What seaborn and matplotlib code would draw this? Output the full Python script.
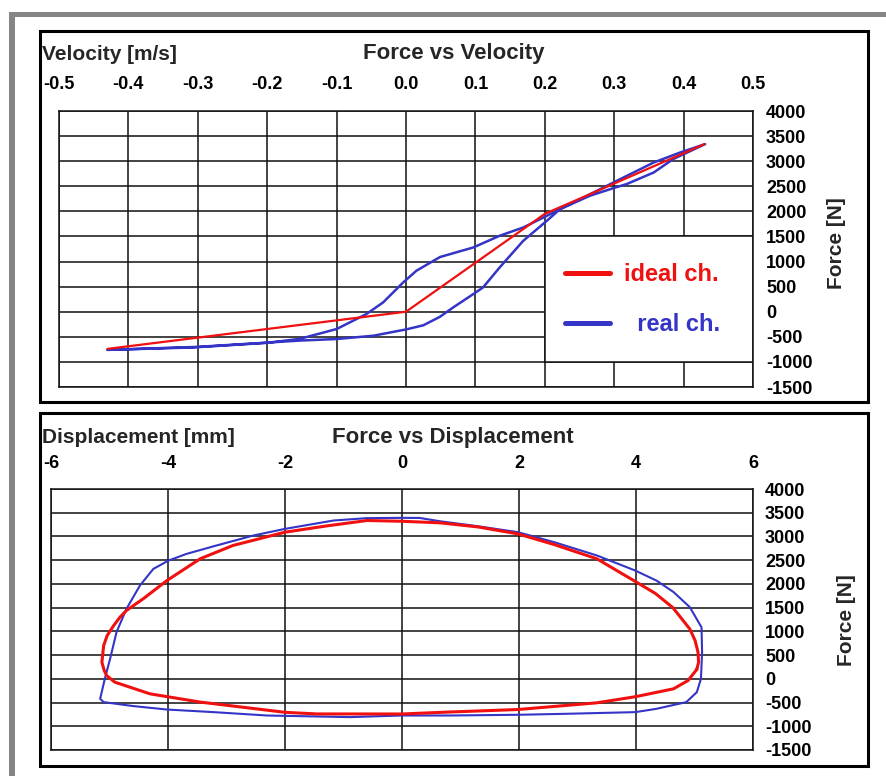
import matplotlib
matplotlib.use("Agg")
import matplotlib.pyplot as plt
import pandas as pd
import seaborn as sns
from matplotlib.patches import Rectangle

# ---------------- data ----------------
vel_ticks = [-0.5, -0.4, -0.3, -0.2, -0.1, 0.0, 0.1, 0.2, 0.3, 0.4, 0.5]
vel_tick_labels = ["-0.5", "-0.4", "-0.3", "-0.2", "-0.1", "0.0",
                   "0.1", "0.2", "0.3", "0.4", "0.5"]
disp_ticks = [-6, -4, -2, 0, 2, 4, 6]
disp_tick_labels = ["-6", "-4", "-2", "0", "2", "4", "6"]
force_ticks = [-1500, -1000, -500, 0, 500, 1000, 1500, 2000, 2500, 3000, 3500, 4000]

# ideal damper characteristic (force vs velocity)
ideal_vel = [-0.43, 0.0, 0.2, 0.43]
ideal_vel_force = [-740, 0, 1950, 3340]

# measured damper loop (force vs velocity)
real_vel = [-0.43, -0.307, -0.2, -0.153, -0.1, -0.057, -0.033, -0.004, 0.015,
            0.049, 0.097, 0.135, 0.169, 0.203, 0.222, 0.256, 0.299, 0.357,
            0.395, 0.431,
            0.385, 0.357, 0.318, 0.299, 0.265, 0.222, 0.203, 0.169, 0.135,
            0.111, 0.097, 0.068, 0.049, 0.025, 0.001, -0.047, -0.1, -0.153,
            -0.3, -0.43]
real_vel_force = [-760, -712, -620, -540, -345, -46, 185, 584, 817,
                  1090, 1281, 1514, 1679, 1912, 2046, 2277, 2576, 2974,
                  3173, 3340,
                  3042, 2775, 2544, 2464, 2311, 2046, 1813, 1414, 883,
                  484, 352, 86, -100, -270, -350, -478, -544, -575,
                  -700, -760]

# ideal damper loop (force vs displacement)
ideal_disp = [5.04, 5.07, 5.06, 5.01, 4.92, 4.63, 4.33, 3.99, 3.33, 2.6, 1.98,
              1.3, 0.65, 0.0, -0.6, -1.3, -2.0, -2.89, -3.45, -4.02, -4.42,
              -4.71, -4.82, -4.93, -5.04, -5.10, -5.13, -5.09, -5.05, -4.91,
              -4.31, -3.45, -2.0, -1.46, 0.0, 0.8, 1.98, 3.33, 3.99, 4.64,
              4.89, 5.04]
ideal_disp_force = [200, 350, 560, 807, 1050, 1500, 1800, 2050, 2530, 2830, 3055,
                    3200, 3287, 3320, 3336, 3220, 3090, 2810, 2530, 2070, 1690,
                    1440, 1300, 1120, 912, 700, 350, 175, 70, -70,
                    -316, -490, -706, -740, -741, -700, -647, -506, -377, -211,
                    -36, 200]

# measured damper loop (force vs displacement)
real_disp = [5.11, 5.13, 5.12, 4.92, 4.64, 4.35, 3.99, 3.33, 2.6, 1.98, 1.3,
             0.65, 0.3, 0.0, -0.6, -1.17, -2.0, -2.54, -3.17, -3.68, -3.99,
             -4.25, -4.48, -4.71, -4.88, -4.99, -5.08, -5.16, -5.10, -4.59,
             -4.02, -3.22, -2.31, -0.89, 0.0, 0.82, 1.98, 2.81, 3.99, 4.35,
             4.86, 5.04, 5.11]
real_disp_force = [0, 560, 1085, 1510, 1830, 2070, 2280, 2600, 2880, 3090, 3215,
                   3320, 3390, 3392, 3386, 3336, 3160, 3020, 2810, 2634, 2493,
                   2317, 1966, 1475, 984, 421, 0, -421, -491, -575,
                   -647, -702, -773, -807, -773, -773, -758, -737, -702, -632,
                   -491, -281, 0]

RED = "#f01010"
BLUE = "#3434c6"
INK = "#111111"

W, H = 886, 776


def fx(px):
    return px / W


def fy(py):
    return 1 - py / H


sns.set_style("white")
plt.rcParams["font.family"] = ["Liberation Sans", "DejaVu Sans"]
plt.rcParams["axes.unicode_minus"] = False

fig = plt.figure(figsize=(W / 100, H / 100), dpi=100)
fig.patch.set_facecolor("white")

# outer grey frame and the two black panel boxes
fig.patches.append(Rectangle((fx(9), fy(17)), fx(886) - fx(9), fy(12) - fy(17),
                             transform=fig.transFigure, color="#858585", lw=0))
fig.patches.append(Rectangle((fx(9), fy(776)), fx(15) - fx(9), fy(12) - fy(776),
                             transform=fig.transFigure, color="#858585", lw=0))
for top, bottom in [(31, 402), (413, 766)]:
    fig.patches.append(Rectangle((fx(40), fy(bottom)), fx(868) - fx(40),
                                 fy(top) - fy(bottom), transform=fig.transFigure,
                                 fill=False, edgecolor="black", lw=2.2))

ax1 = fig.add_axes([fx(59), fy(387), fx(753) - fx(59), fy(111) - fy(387)])
ax2 = fig.add_axes([fx(51), fy(750), fx(753) - fx(51), fy(489) - fy(750)])


def style_axes(ax, xticks, xlabels, xpad, ypad):
    ax.set_xlim(xticks[0], xticks[-1])
    ax.set_ylim(force_ticks[0], force_ticks[-1])
    ax.set_xticks(xticks)
    ax.set_xticklabels(xlabels)
    ax.set_yticks(force_ticks)
    ax.set_yticklabels([str(v) for v in force_ticks])
    ax.xaxis.tick_top()
    ax.yaxis.tick_right()
    ax.tick_params(axis="x", length=0, pad=xpad, labelsize=13, colors="black")
    ax.tick_params(axis="y", length=0, pad=ypad, labelsize=13, colors="black")
    for lab in ax.get_xticklabels() + ax.get_yticklabels():
        lab.set_fontweight("bold")
    ax.grid(True, color=INK, lw=1.1)
    ax.set_axisbelow(True)
    for s in ax.spines.values():
        s.set_visible(True)
        s.set_color(INK)
        s.set_linewidth(1.1)
    ax.set_xlabel("")
    ax.set_ylabel("")
    ax.set_facecolor("white")


# ---------------- Force vs Velocity ----------------
df_iv = pd.DataFrame({"v": ideal_vel, "F": ideal_vel_force})
df_rv = pd.DataFrame({"v": real_vel, "F": real_vel_force})
sns.lineplot(data=df_iv, x="v", y="F", sort=False, estimator=None, color=RED,
             lw=1.6, ax=ax1, label="ideal ch.", zorder=3)
sns.lineplot(data=df_rv, x="v", y="F", sort=False, estimator=None, color=BLUE,
             lw=1.8, ax=ax1, label="  real ch.", zorder=2.5)
style_axes(ax1, vel_ticks, vel_tick_labels, xpad=13.1, ypad=9.4)

# white legend panel sitting on the grid
ax1.add_patch(Rectangle((0.2, -1000), 0.3, 2500, facecolor="white",
                        edgecolor=INK, lw=1.1, zorder=1))
leg = ax1.legend(loc="center left", bbox_to_anchor=((565 - 59) / 694, (387 - 299.5) / 276),
                 frameon=False, borderpad=0, borderaxespad=0,
                 handlelength=1.9, handletextpad=0.6, labelspacing=1.15,
                 prop={"weight": "bold", "size": 17})
for txt, col in zip(leg.get_texts(), [RED, BLUE]):
    txt.set_color(col)
for h in leg.legend_handles:
    h.set_linewidth(3.6)

fig.text(fx(42), fy(60), "Velocity [m/s]", ha="left", va="baseline",
         fontsize=15, fontweight="bold")
fig.text(fx(454), fy(59), "Force vs Velocity", ha="center", va="baseline",
         fontsize=16, fontweight="bold")
fig.text(fx(837), fy(243), "Force [N]", ha="center", va="center", rotation=90,
         fontsize=15, fontweight="bold")

# ---------------- Force vs Displacement ----------------
df_id = pd.DataFrame({"d": ideal_disp, "F": ideal_disp_force})
df_rd = pd.DataFrame({"d": real_disp, "F": real_disp_force})
sns.lineplot(data=df_rd, x="d", y="F", sort=False, estimator=None, color=BLUE,
             lw=1.5, ax=ax2, zorder=2)
sns.lineplot(data=df_id, x="d", y="F", sort=False, estimator=None, color=RED,
             lw=2.2, ax=ax2, zorder=3)
style_axes(ax2, disp_ticks, disp_tick_labels, xpad=12.4, ypad=8.6)
if ax2.get_legend() is not None:
    ax2.get_legend().remove()
for ln in ax1.get_lines() + ax2.get_lines():
    ln.set_solid_joinstyle("round")

fig.text(fx(42), fy(442.7), "Displacement [mm]", ha="left", va="baseline",
         fontsize=15, fontweight="bold")
fig.text(fx(453), fy(442.7), "Force vs Displacement", ha="center", va="baseline",
         fontsize=16, fontweight="bold")
fig.text(fx(847), fy(620), "Force [N]", ha="center", va="center", rotation=90,
         fontsize=15, fontweight="bold")

fig.savefig("out.png", dpi=100, facecolor="white")
